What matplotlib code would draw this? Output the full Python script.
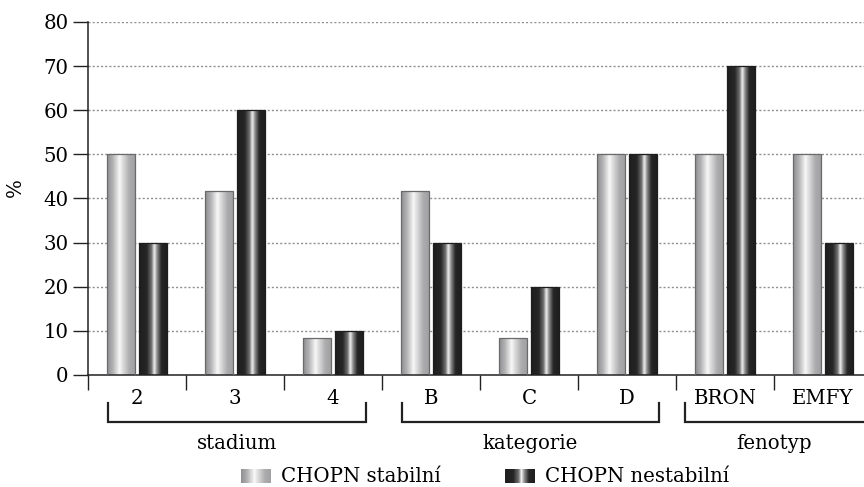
import numpy as np
import matplotlib
matplotlib.use("Agg")
import matplotlib.pyplot as plt
from matplotlib.colors import LinearSegmentedColormap
from matplotlib.patches import Rectangle
from matplotlib.legend_handler import HandlerBase
import matplotlib.transforms as mtransforms

categories = ["2", "3", "4", "B", "C", "D", "BRON", "EMFY"]
stabilni = [50, 41.7, 8.3, 41.7, 8.3, 50, 50, 50]
nestabilni = [30, 60, 10, 30, 20, 50, 70, 30]
groups = ["stadium", "kategorie", "fenotyp"]
group_spans = [(0.2, 2.84), (3.2, 5.83), (6.09, 8.3)]
series_names = ["CHOPN stabilní", "CHOPN nestabilní"]

plt.rcParams['font.family'] = ['DejaVu Serif']
FS = 14.2

light_cmap = LinearSegmentedColormap.from_list("light", [
    (0.0, "#8e8e90"), (0.2, "#b0b0b2"), (0.45, "#f8f8f8"), (0.55, "#e0e0e0"),
    (0.8, "#acacae"), (1.0, "#a0a0a2")])
dark_cmap = LinearSegmentedColormap.from_list("dark", [
    (0.0, "#1e1e1e"), (0.28, "#262626"), (0.45, "#707070"), (0.55, "#f0f0f0"),
    (0.65, "#8a8a8a"), (0.8, "#262626"), (1.0, "#1e1e1e")])
grad = np.linspace(0, 1, 256).reshape(1, -1)

fig = plt.figure(figsize=(8.64, 4.87), dpi=100)
ax = fig.add_axes([88/864, 112/487, 784/864, 353/487])

x = np.arange(len(categories)) + 0.5
w = 0.28
off = 0.165

def gradient_bars(xs, vals, cmap, edge):
    bars = ax.bar(xs, vals, width=w, facecolor="none", edgecolor=edge, linewidth=0.9, zorder=3)
    for b in bars:
        x0, y0 = b.get_x(), b.get_y()
        im = ax.imshow(grad, cmap=cmap, aspect="auto", extent=(x0, x0 + b.get_width(), y0, y0 + b.get_height()),
                       zorder=2, interpolation="bilinear")
        im.set_clip_path(b)
    return bars

gradient_bars(x - off, stabilni, light_cmap, "#6a6a6a")
gradient_bars(x + off, nestabilni, dark_cmap, "#1e1e1e")

ax.set_xlim(0, len(categories))
ax.set_ylim(0, 80)
ax.set_yticks(range(0, 81, 10))
ax.set_xticks(np.arange(len(categories) + 1))
ax.set_xticklabels([])
ax.set_xticks(x, minor=True)
ax.set_xticklabels(categories, minor=True, fontsize=FS)
ax.tick_params(axis="x", which="major", length=11, width=1, direction="out", color="#222")
ax.tick_params(axis="x", which="minor", length=0, pad=10)
ax.tick_params(axis="y", length=11, width=1, pad=3, labelsize=FS, color="#222")
ax.set_ylabel("%", fontsize=FS)
ax.yaxis.set_label_coords(-0.08, 0.53)

for s in ["top", "right"]:
    ax.spines[s].set_visible(False)
for s in ["left", "bottom"]:
    ax.spines[s].set_linewidth(1.1)
    ax.spines[s].set_color("#222")

ax.set_axisbelow(True)
ax.yaxis.grid(True, linestyle=(0, (1.5, 1.5)), color="#909090", linewidth=1)

trans = mtransforms.blended_transform_factory(ax.transData, ax.transAxes)
for name, (a, b) in zip(groups, group_spans):
    ax.plot([a, a, b, b], [-0.079, -0.133, -0.133, -0.079], color="#222", lw=1.6,
            transform=trans, clip_on=False, solid_joinstyle="miter")
    ax.text((a + b) / 2 if name != "fenotyp" else 7.0, -0.193, name, transform=trans,
            ha="center", va="center", fontsize=FS)


class GradientHandler(HandlerBase):
    def __init__(self, cmap):
        super().__init__()
        self.cmap = cmap

    def create_artists(self, legend, orig_handle, xdescent, ydescent, width, height, fontsize, trans):
        n = 30
        arts = []
        for i in range(n):
            r = Rectangle((-xdescent + width * i / n, -ydescent), width / n + 0.3, height,
                          facecolor=self.cmap((i + 0.5) / n), edgecolor="none", transform=trans)
            arts.append(r)
        return arts


h1 = Rectangle((0, 0), 1, 1)
h2 = Rectangle((0, 0), 1, 1)
fig.legend([h1, h2], series_names, loc="center", bbox_to_anchor=(485/864, 10/487), ncol=2,
           frameon=False, fontsize=FS, handlelength=1.5, handleheight=0.7, handletextpad=0.5,
           columnspacing=3.3, borderpad=0,
           handler_map={h1: GradientHandler(light_cmap), h2: GradientHandler(dark_cmap)})

fig.savefig("out.png", dpi=100)
